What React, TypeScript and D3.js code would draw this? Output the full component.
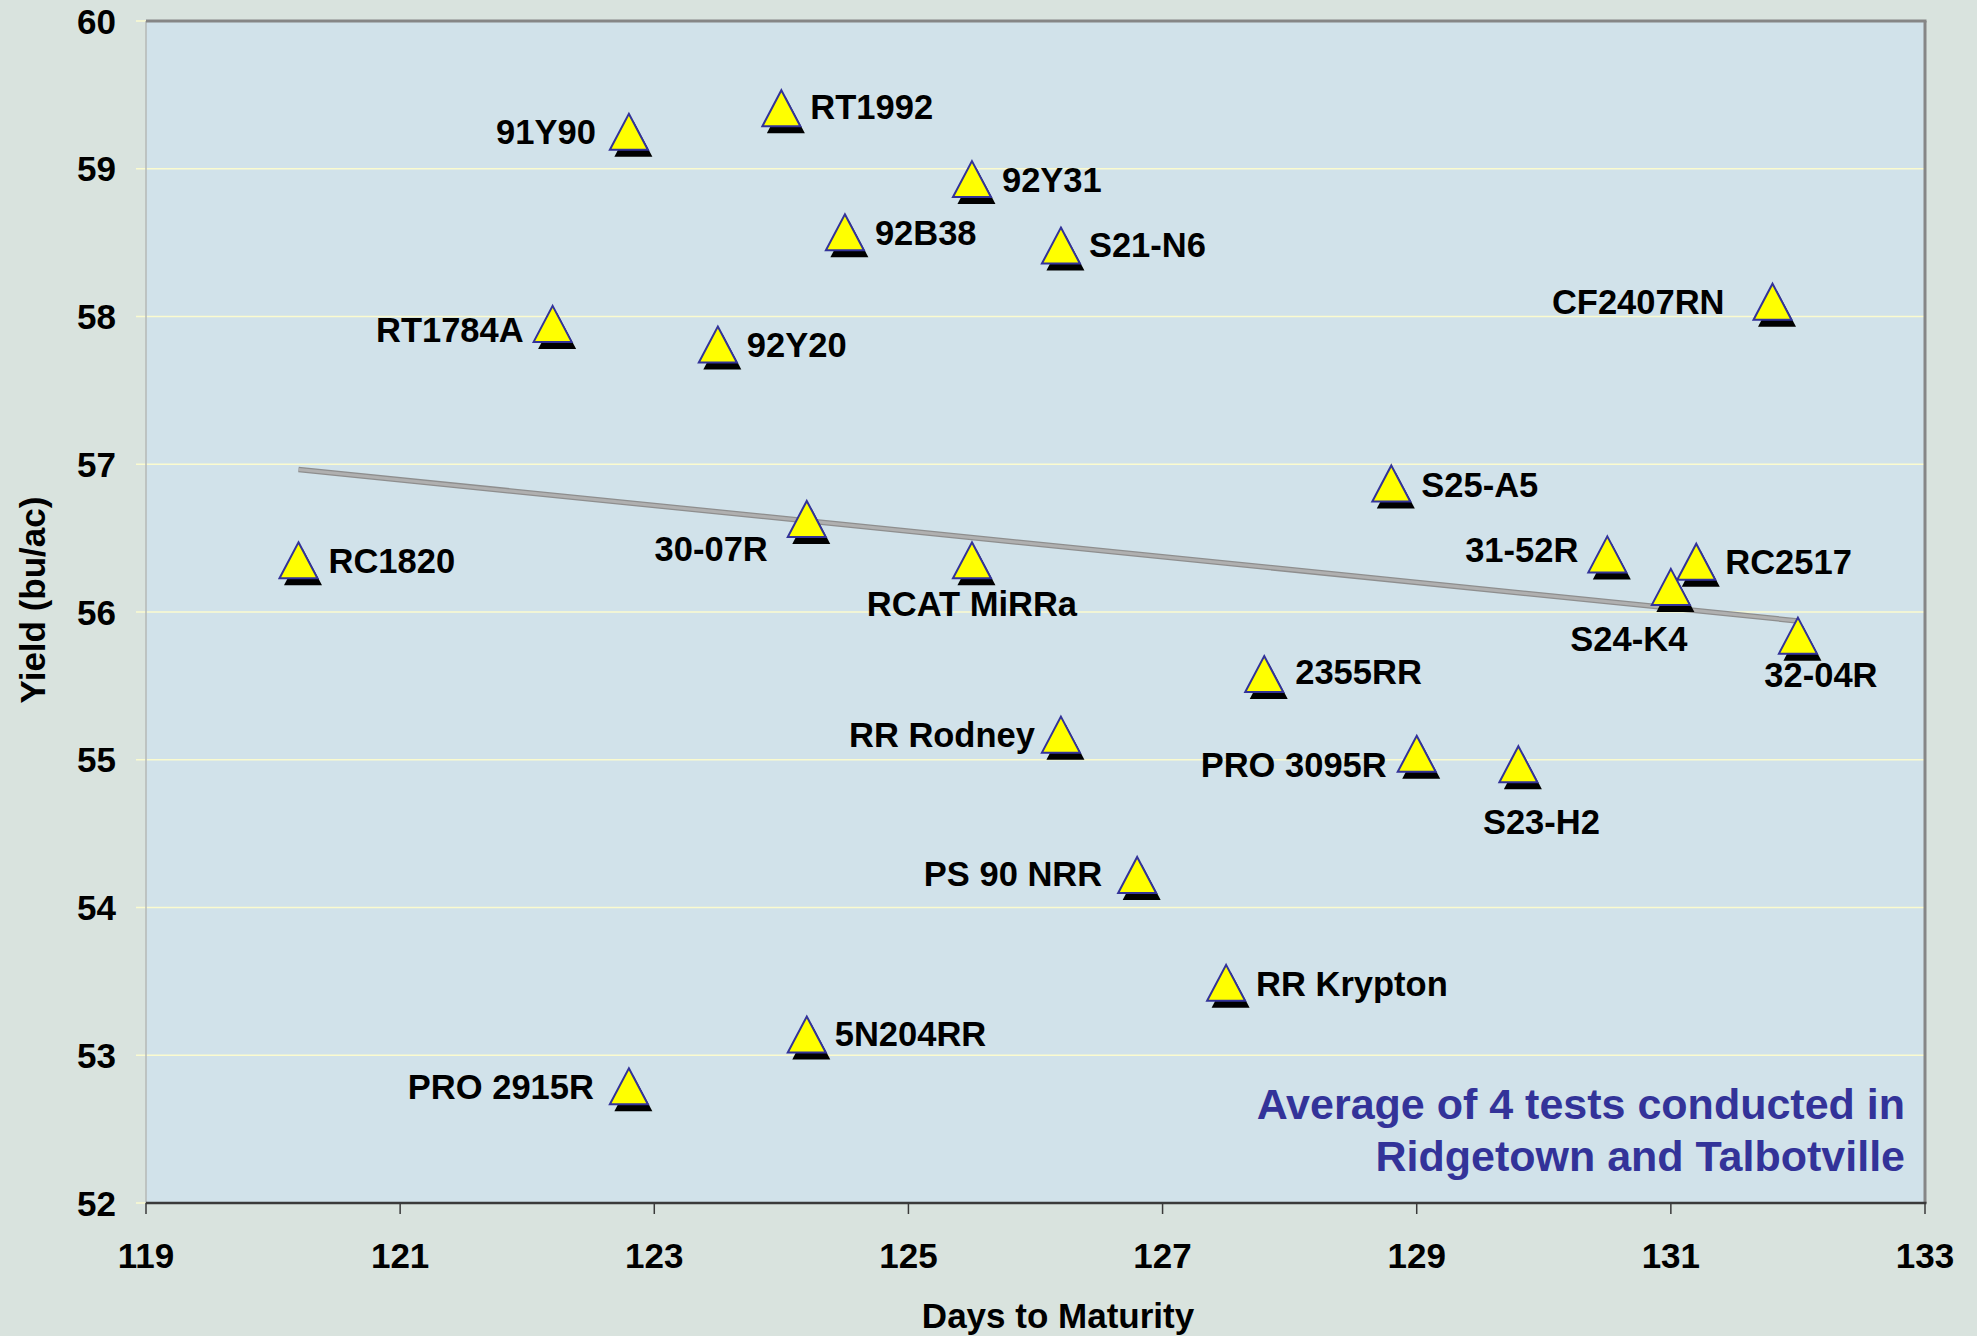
import { extent, line, mean, scaleLinear, sum } from "d3";

// Soybean variety yield vs days to maturity
const varieties = [
  "91Y90", "RT1992", "92Y31", "92B38", "S21-N6", "CF2407RN", "RT1784A", "92Y20",
  "S25-A5", "RC1820", "30-07R", "RCAT MiRRa", "31-52R", "RC2517", "S24-K4", "32-04R",
  "2355RR", "RR Rodney", "PRO 3095R", "S23-H2", "PS 90 NRR", "RR Krypton", "5N204RR", "PRO 2915R",
];
const maturity = [
  122.8, 124.0, 125.5, 124.5, 126.2, 131.8, 122.2, 123.5,
  128.8, 120.2, 124.2, 125.5, 130.5, 131.2, 131.0, 132.0,
  127.8, 126.2, 129.0, 129.8, 126.8, 127.5, 124.2, 122.8,
];
const yieldBu = [
  59.25, 59.41, 58.93, 58.57, 58.48, 58.1, 57.95, 57.81,
  56.87, 56.35, 56.63, 56.35, 56.39, 56.34, 56.17, 55.84,
  55.58, 55.17, 55.04, 54.97, 54.22, 53.49, 53.14, 52.79,
];
const xTicks = [119, 121, 123, 125, 127, 129, 131, 133];
const yTicks = [52, 53, 54, 55, 56, 57, 58, 59, 60];
const note = ["Average of 4 tests conducted in", "Ridgetown and Talbotville"];

// where each data label sits relative to its marker (hand placed in the original)
type Anchor = "start" | "end" | "middle";
const labelPlacement: [Anchor, number, number][] = [
  ["end", -33, 0], ["start", 29, -2], ["start", 30, 0], ["start", 30, 0],
  ["start", 28, -1], ["end", -48, 0], ["end", -29, 6], ["start", 29, 0],
  ["start", 30, 1], ["start", 30, 0], ["end", -39, 30], ["middle", 0, 43],
  ["end", -29, -5], ["start", 29, 0], ["middle", -42, 52], ["middle", 23, 39],
  ["start", 31, -2], ["end", -26, 0], ["end", -30, 11], ["middle", 23, 57],
  ["end", -35, -1], ["start", 30, 1], ["start", 28, -1], ["end", -35, 0],
];

const W = 1977;
const H = 1336;
const margin = { top: 21, right: 52, bottom: 133, left: 146 };
const FONT = "'Liberation Sans', Arial, sans-serif";

export default function App() {
  const x = scaleLinear().domain([119, 133]).range([margin.left, W - margin.right]);
  const y = scaleLinear().domain([52, 60]).range([H - margin.bottom, margin.top]);
  const [x0, x1] = x.range();
  const [yb, yt] = y.range();

  // least squares trend
  const mx = mean(maturity)!;
  const my = mean(yieldBu)!;
  const slope =
    sum(maturity.map((v, i) => (v - mx) * (yieldBu[i] - my))) /
    sum(maturity.map((v) => (v - mx) ** 2));
  const [minX, maxX] = extent(maturity) as [number, number];
  const trend: [number, number][] = [minX, maxX].map((v) => [v, my + slope * (v - mx)]);
  const trendPath = line<[number, number]>()
    .x((d) => x(d[0]))
    .y((d) => y(d[1]))(trend)!;

  const tw = 38;
  const th = 36;
  const tri = `M0,${-th / 2}L${tw / 2},${th / 2}L${-tw / 2},${th / 2}Z`;

  return (
    <div style={{ position: "absolute", left: 0, top: 0 }}>
      <svg width={W} height={H} style={{ display: "block" }} fontFamily={FONT}>
        <rect width={W} height={H} fill="#d9e3de" />
        <rect x={x0} y={yt} width={x1 - x0} height={yb - yt} fill="#d1e2ea" />

        {yTicks.map((t) => (
          <g key={`gy-${t}`}>
            <line x1={x0 - 10} x2={x1} y1={y(t)} y2={y(t)} stroke="#fbfbcf" strokeWidth={1.6} />
            <text
              x={x0 - 30}
              y={y(t)}
              dy="0.36em"
              textAnchor="end"
              fontSize={35}
              fontWeight="bold"
            >
              {t}
            </text>
          </g>
        ))}

        {/* frame */}
        <line x1={x0} x2={x0} y1={yt} y2={yb} stroke="#b4b8b6" strokeWidth={1.5} />
        <line x1={x0} x2={x1 + 1.5} y1={yt} y2={yt} stroke="#868686" strokeWidth={3} />
        <line x1={x1} x2={x1} y1={yt} y2={yb} stroke="#868686" strokeWidth={3} />
        <line x1={x0} x2={x1 + 1.5} y1={yb} y2={yb} stroke="#3a3a3a" strokeWidth={2.5} />

        {xTicks.map((t) => (
          <g key={`gx-${t}`}>
            <line x1={x(t)} x2={x(t)} y1={yb} y2={yb + 11} stroke="#3a3a3a" strokeWidth={1.5} />
            <text x={x(t)} y={yb + 65} textAnchor="middle" fontSize={35} fontWeight="bold">
              {t}
            </text>
          </g>
        ))}

        <path d={trendPath} fill="none" stroke="#8e8e8e" strokeWidth={5.5} />
        <path d={trendPath} fill="none" stroke="#b0b0b0" strokeWidth={3} />

        {maturity.map((m, i) => (
          <g key={`pt-${varieties[i]}`} transform={`translate(${x(m)},${y(yieldBu[i])})`}>
            <path d={tri} transform="translate(4.5,7)" fill="#000" />
            <path d={tri} fill="#ffff00" stroke="#333399" strokeWidth={2} strokeLinejoin="miter" />
          </g>
        ))}

        {maturity.map((m, i) => {
          const [anchor, dx, dy] = labelPlacement[i];
          return (
            <text
              key={`lb-${varieties[i]}`}
              x={x(m) + dx}
              y={y(yieldBu[i]) + dy}
              dy="0.36em"
              textAnchor={anchor}
              fontSize={34.5}
              fontWeight="bold"
            >
              {varieties[i]}
            </text>
          );
        })}

        {note.map((t, i) => (
          <text
            key={`note-${i}`}
            x={1905}
            y={1119 + i * 52}
            textAnchor="end"
            fontSize={43}
            fontWeight="bold"
            fill="#333399"
          >
            {t}
          </text>
        ))}

        <text x={1058} y={1328} textAnchor="middle" fontSize={35} fontWeight="bold">
          Days to Maturity
        </text>
        <text
          transform={`translate(45,600) rotate(-90)`}
          textAnchor="middle"
          fontSize={35}
          fontWeight="bold"
        >
          Yield (bu/ac)
        </text>
      </svg>
    </div>
  );
}
